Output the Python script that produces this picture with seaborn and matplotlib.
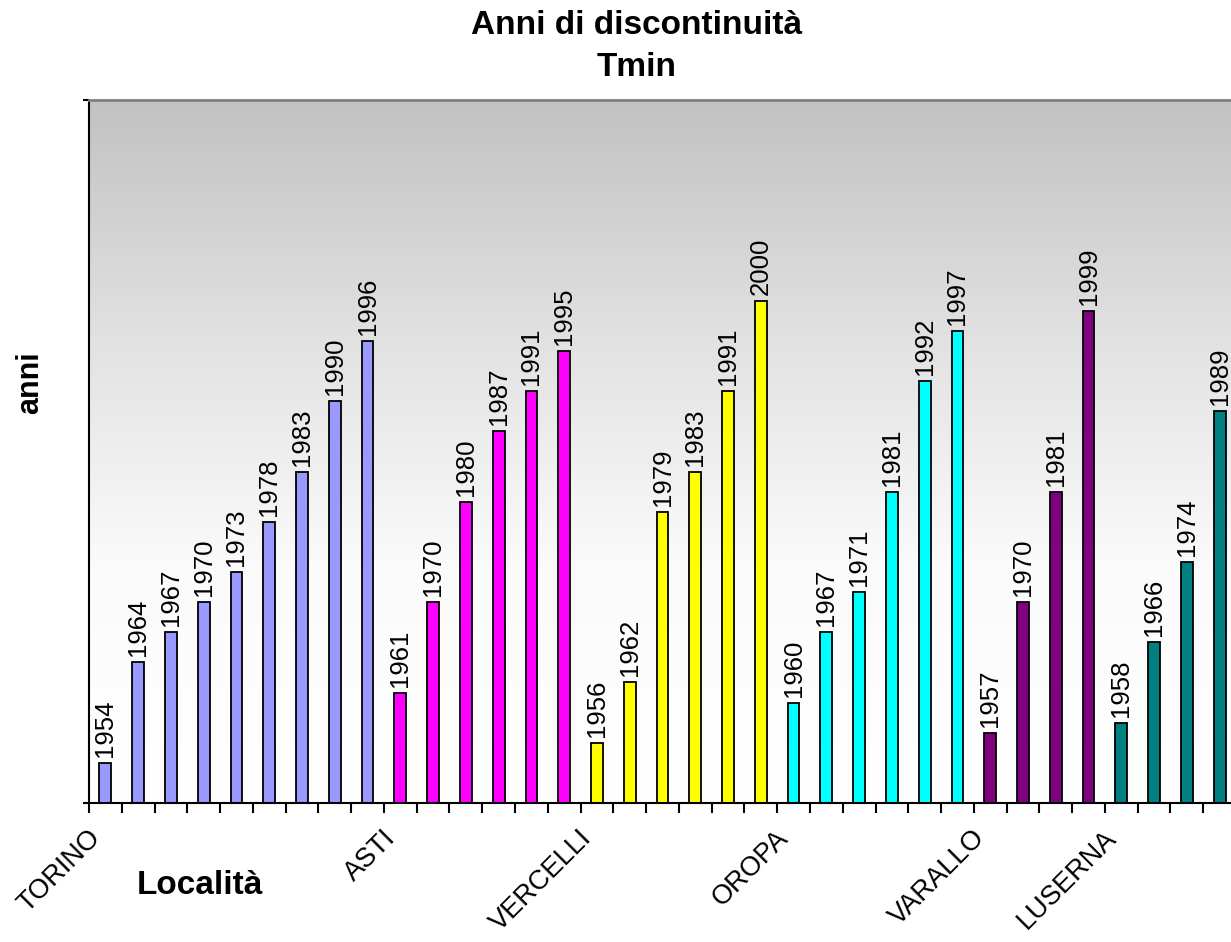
import warnings
warnings.filterwarnings('ignore')

import matplotlib.pyplot as plt
import matplotlib.transforms as mtransforms
import numpy as np
import pandas as pd
import seaborn as sns

# dati
localita = ['TORINO', 'ASTI', 'VERCELLI', 'OROPA', 'VARALLO', 'LUSERNA']
anni_torino = [1954, 1964, 1967, 1970, 1973, 1978, 1983, 1990, 1996]
anni_asti = [1961, 1970, 1980, 1987, 1991, 1995]
anni_vercelli = [1956, 1962, 1979, 1983, 1991, 2000]
anni_oropa = [1960, 1967, 1971, 1981, 1992, 1997]
anni_varallo = [1957, 1970, 1981, 1999]
anni_luserna = [1958, 1966, 1974, 1989]
colori = ['#9999FF', '#FF00FF', '#FFFF00', '#00FFFF', '#800080', '#008080']

gruppi = [anni_torino, anni_asti, anni_vercelli, anni_oropa, anni_varallo, anni_luserna]
righe = []
for loc, anni in zip(localita, gruppi):
    for a in anni:
        righe.append({'localita': loc, 'anno': a})
df = pd.DataFrame(righe)
df['pos'] = [str(i) for i in range(len(df))]

sns.set_style('white')
plt.rcParams['font.family'] = ['Liberation Sans', 'DejaVu Sans']
plt.rcParams['text.color'] = 'black'
plt.rcParams['xtick.color'] = 'black'

W, H = 1231, 942
fig = plt.figure(figsize=(W / 100, H / 100), dpi=100)
ax = fig.add_axes([89 / W, 1 - 803 / H, 1147 / W, 703 / H])

sns.barplot(data=df, x='pos', y='anno', hue='localita', order=list(df['pos']),
            hue_order=localita, palette=colori, dodge=False, width=0.36,
            saturation=1, edgecolor='black', linewidth=1.3, legend=False,
            ax=ax, zorder=2)

n = len(df)
ymin, ymax = 1950, 2020
# sfondo sfumato grigio (in alto) -> bianco (in basso)
grad = np.linspace(0, 1, 256).reshape(-1, 1)
cmap = sns.blend_palette(['#c1c2c1', '#e0e1e0', '#fbfbfb', '#ffffff'], as_cmap=True)
ax.imshow(grad, extent=(-0.5, n - 0.5, ymin, ymax), cmap=cmap, aspect='auto',
          zorder=0, origin='upper')
ax.set_xlim(-0.5, n - 0.5)
ax.set_ylim(ymin, ymax)

for i, a in enumerate(df['anno']):
    ax.text(i, a + 0.6, str(a), rotation=90, ha='center', va='bottom',
            fontsize=18.5, color='black')

# etichette solo sulla prima barra di ogni località
ax.set_xticks(np.arange(n) - 0.5)
ax.set_xticklabels([])
ax.tick_params(axis='x', length=7, width=1.5, color='black',
               direction='out', bottom=True)
trans = mtransforms.blended_transform_factory(ax.transData, ax.transAxes)
sposta = mtransforms.ScaledTranslation(-18 / 100, -22 / 100, fig.dpi_scale_trans)
inizio = 0
for loc, anni in zip(localita, gruppi):
    ax.text(inizio, 0, loc, rotation=45, ha='right', va='top',
            rotation_mode='anchor', fontsize=19.5, transform=trans + sposta)
    inizio += len(anni)

ax.set_yticks([ymin, ymax])
ax.set_yticklabels(['', ''])
ax.tick_params(axis='y', length=4, width=1.5, color='black', left=True)
ax.set_xlabel('')
ax.set_ylabel('')

for s in ['left', 'bottom']:
    ax.spines[s].set_color('black')
    ax.spines[s].set_linewidth(1.5)
ax.spines['top'].set_color('#808080')
ax.spines['top'].set_linewidth(2)
ax.spines['right'].set_visible(False)

fig.text(637 / W, 1 - 25 / H, 'Anni di discontinuità', ha='center', va='center',
         fontsize=24, fontweight='bold')
fig.text(637 / W, 1 - 67 / H, 'Tmin', ha='center', va='center',
         fontsize=24, fontweight='bold')
fig.text(30 / W, 1 - 383 / H, 'anni', rotation=90, ha='center', va='center',
         fontsize=22, fontweight='bold')
fig.text(200 / W, 1 - 886 / H, 'Località', ha='center', va='center',
         fontsize=24, fontweight='bold')

fig.savefig('out.png', dpi=100)
